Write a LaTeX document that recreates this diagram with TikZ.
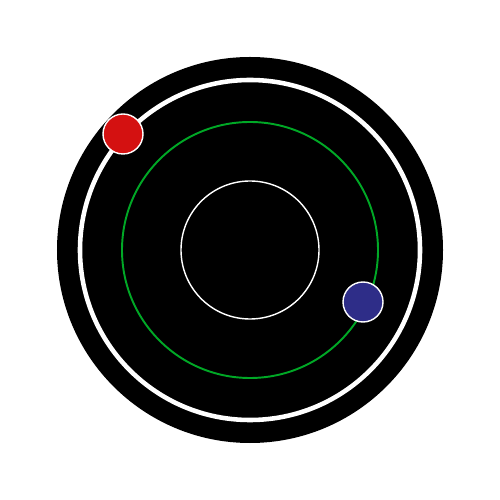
\documentclass[tikz,border=0pt]{standalone}
\usepackage{tikz}
\definecolor{orbitgreen}{HTML}{00A826}
\definecolor{planetred}{HTML}{D41111}
\definecolor{planetblue}{HTML}{2E2D88}

\begin{document}
\begin{tikzpicture}[
  orbit/.style={draw,fill=none},
  planet/.style={circle,draw=white,line width=0.8pt,minimum size=8mm,inner sep=0pt}]
\useasboundingbox (-5,-5) rectangle (5,5);
\fill[black] (0,0) circle (3.86);
\draw[orbit,white,line width=2.6pt] (0,0) circle (3.4);
\draw[orbit,orbitgreen,line width=1.1pt] (0,0) circle (2.56);
\draw[orbit,white,line width=0.8pt] (0,0) circle (1.38);
\node[planet,fill=planetred] (red) at (-2.54,2.32) {};
\node[planet,fill=planetblue] (blue) at (2.26,-1.04) {};
\end{tikzpicture}
\end{document}
